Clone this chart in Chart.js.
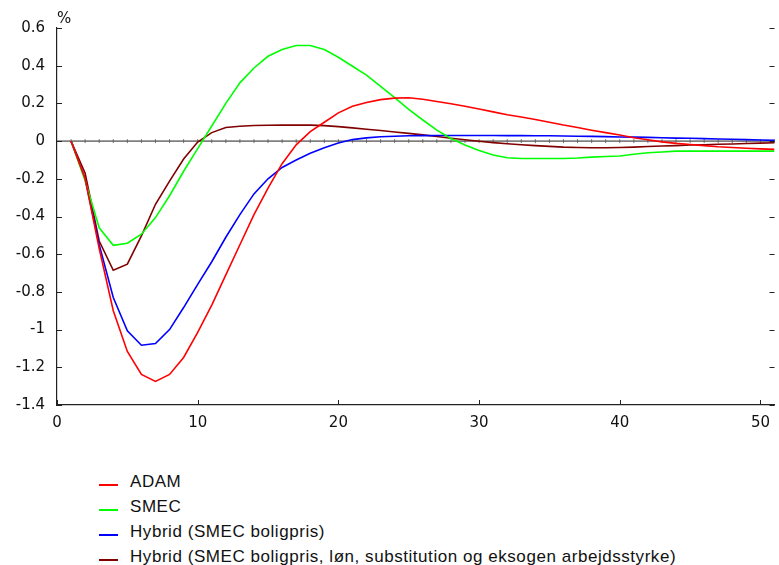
<!DOCTYPE html>
<html>
<head>
<meta charset="utf-8">
<script src="https://cdn.jsdelivr.net/npm/chart.js@4.4.1/dist/chart.umd.min.js"></script>
<style>
  body { margin: 0; background: #fff; font-family: "Liberation Sans", Arial, sans-serif; }
  #wrap { position: relative; width: 779px; height: 565px; }
  #box { position: absolute; left: 0; top: 0; width: 779px; height: 445px; }
  #legend { position: absolute; left: 99px; top: 469px; margin: 0; padding: 0; list-style: none; }
  #legend li { height: 25px; line-height: 25px; font-size: 17px; letter-spacing: 0.55px; color: #111; white-space: nowrap; }
  #legend span { display: inline-block; width: 19px; height: 2px; vertical-align: middle; margin-right: 12px; position: relative; top: 2px; }
</style>
</head>
<body>
<div id="wrap">
  <div id="box"><canvas id="chart"></canvas></div>
  <ul id="legend"></ul>
</div>
<script>
const periods = [1, 2, 3, 4, 5, 6, 7, 8, 9, 10, 11, 12, 13, 14, 15, 16, 17, 18, 19, 20,
  21, 22, 23, 24, 25, 26, 27, 28, 29, 30, 31, 32, 33, 34, 35, 36, 37, 38, 39, 40,
  41, 42, 43, 44, 45, 46, 47, 48, 49, 50, 51];

const adam = [0, -0.2, -0.57, -0.9, -1.116, -1.238, -1.275, -1.238, -1.148, -1.015,
  -0.87, -0.71, -0.55, -0.39, -0.25, -0.12, -0.02, 0.05, 0.1, 0.15,
  0.185, 0.205, 0.22, 0.228, 0.23, 0.222, 0.21, 0.198, 0.185, 0.17,
  0.155, 0.14, 0.128, 0.115, 0.1, 0.085, 0.072, 0.058, 0.045, 0.032,
  0.018, 0.007, -0.004, -0.012, -0.018, -0.024, -0.03, -0.034, -0.038, -0.041, -0.044];

const smec = [0, -0.21, -0.46, -0.553, -0.542, -0.494, -0.406, -0.29, -0.16, -0.04,
  0.08, 0.2, 0.309, 0.388, 0.45, 0.486, 0.507, 0.507, 0.486, 0.445,
  0.397, 0.35, 0.29, 0.23, 0.168, 0.112, 0.058, 0.014, -0.021, -0.05,
  -0.074, -0.088, -0.092, -0.092, -0.092, -0.092, -0.09, -0.085, -0.082, -0.079,
  -0.07, -0.062, -0.058, -0.053, -0.053, -0.053, -0.053, -0.053, -0.053, -0.053, -0.053];

const hybrid = [0, -0.2, -0.55, -0.83, -1.007, -1.083, -1.074, -1.0, -0.883, -0.76,
  -0.64, -0.51, -0.39, -0.28, -0.2, -0.14, -0.1, -0.065, -0.035, -0.01,
  0.008, 0.017, 0.023, 0.026, 0.028, 0.029, 0.03, 0.03, 0.03, 0.03,
  0.03, 0.029, 0.029, 0.028, 0.028, 0.027, 0.026, 0.025, 0.024, 0.022,
  0.021, 0.02, 0.018, 0.016, 0.015, 0.013, 0.011, 0.01, 0.008, 0.006, 0.004];

const hybridFull = [0, -0.17, -0.53, -0.685, -0.653, -0.503, -0.335, -0.212, -0.095, -0.005,
  0.045, 0.072, 0.079, 0.083, 0.084, 0.085, 0.085, 0.085, 0.082, 0.077,
  0.07, 0.063, 0.056, 0.048, 0.041, 0.033, 0.024, 0.015, 0.007, -0.001,
  -0.008, -0.014, -0.019, -0.024, -0.028, -0.032, -0.034, -0.035, -0.035, -0.034,
  -0.032, -0.029, -0.026, -0.024, -0.021, -0.019, -0.017, -0.015, -0.013, -0.011, -0.009];

const seriesNames = ["ADAM", "SMEC", "Hybrid (SMEC boligpris)",
  "Hybrid (SMEC boligpris, løn, substitution og eksogen arbejdsstyrke)"];
const seriesColors = ["#ff0000", "#00ff00", "#0000ff", "#800000"];
const seriesValues = [adam, smec, hybrid, hybridFull];

const yTicks = [0.6, 0.4, 0.2, 0, -0.2, -0.4, -0.6, -0.8, -1, -1.2, -1.4];
const xTicks = [0, 10, 20, 30, 40, 50];

// reference type is wider than Arial at the same height
const tickFont = { family: "DejaVu Sans", size: 15 };

// zero line with minor marks, inward ticks and the % unit
const frameMarks = {
  id: "frameMarks",
  beforeDatasetsDraw(chart) {
    const { ctx, chartArea: a, scales: { x, y } } = chart;
    const y0 = y.getPixelForValue(0);
    ctx.save();
    ctx.strokeStyle = "#808080";
    ctx.lineWidth = 1.6;
    ctx.beginPath();
    ctx.moveTo(a.left, y0);
    ctx.lineTo(a.right, y0);
    ctx.stroke();
    ctx.strokeStyle = "#555";
    ctx.lineWidth = 0.8;
    ctx.beginPath();
    periods.forEach(p => {
      const px = x.getPixelForValue(p);
      ctx.moveTo(px, y0 - 2);
      ctx.lineTo(px, y0 + 2);
    });
    ctx.stroke();
    ctx.restore();
  },
  afterDraw(chart) {
    const { ctx, chartArea: a, scales: { x, y } } = chart;
    ctx.save();
    ctx.strokeStyle = "#222";
    ctx.lineWidth = 1;
    ctx.beginPath();
    yTicks.forEach(v => {
      const py = Math.round(y.getPixelForValue(v)) + 0.5;
      ctx.moveTo(a.left, py);
      ctx.lineTo(a.left + 5, py);
      ctx.moveTo(a.right, py);
      ctx.lineTo(a.right - 5, py);
    });
    xTicks.forEach(v => {
      const px = Math.round(x.getPixelForValue(v)) + 0.5;
      ctx.moveTo(px, a.bottom);
      ctx.lineTo(px, a.bottom - 5);
    });
    ctx.stroke();
    ctx.fillStyle = "#111";
    ctx.font = "15px 'DejaVu Sans'";
    ctx.textBaseline = "bottom";
    ctx.fillText("%", a.left, a.top - 1);
    ctx.restore();
  }
};

const chart = new Chart(document.getElementById("chart"), {
  type: "line",
  data: {
    datasets: seriesNames.map((name, i) => ({
      label: name,
      data: periods.map((p, j) => ({ x: p, y: seriesValues[i][j] })),
      borderColor: seriesColors[i],
      backgroundColor: seriesColors[i],
      borderWidth: 1.6,
      pointRadius: 0,
      tension: 0,
      fill: false
    }))
  },
  options: {
    responsive: true,
    maintainAspectRatio: false,
    animation: false,
    layout: { padding: { top: 28, right: 0, left: 0, bottom: 0 } },
    plugins: { legend: { display: false }, tooltip: { enabled: false } },
    scales: {
      x: {
        type: "linear",
        min: 0,
        max: 51,
        afterFit: s => { s.height = 40; },
        grid: { display: false, drawTicks: false },
        border: { display: true, color: "#222", width: 1.2 },
        ticks: { stepSize: 10, includeBounds: false, padding: 9, color: "#111", font: tickFont, maxRotation: 0 }
      },
      y: {
        min: -1.4,
        max: 0.6,
        afterFit: s => { s.width = 57; },
        grid: { display: false, drawTicks: false },
        border: { display: true, color: "#222", width: 1.2 },
        ticks: {
          stepSize: 0.2,
          padding: 12,
          color: "#111",
          font: tickFont,
          callback: v => String(Math.round(v * 10) / 10)
        }
      }
    }
  },
  plugins: [frameMarks]
});

// legend list below the plot
const legend = document.getElementById("legend");
chart.data.datasets.forEach(ds => {
  const li = document.createElement("li");
  li.innerHTML = `<span style="background:${ds.borderColor}"></span>${ds.label}`;
  legend.appendChild(li);
});
</script>
</body>
</html>
